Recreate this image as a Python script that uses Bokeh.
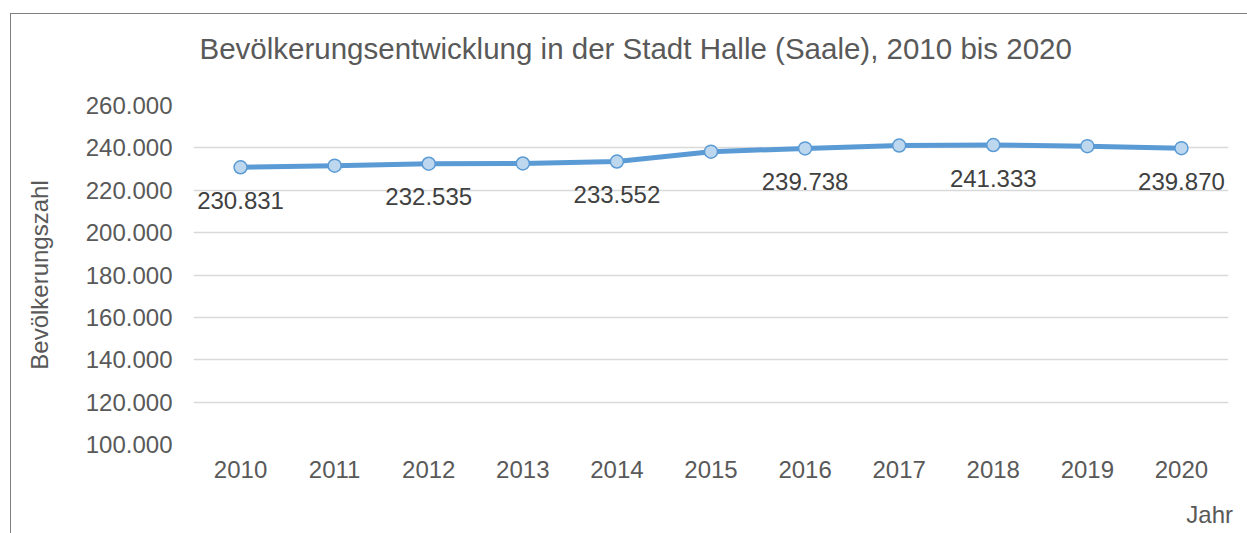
from bokeh.plotting import figure
from bokeh.models import Range1d, FixedTicker, ColumnDataSource, InlineStyleSheet, LinearAxis
from bokeh.core.properties import value
from bokeh.embed import file_html
from bokeh.resources import INLINE

# ---- data ----
years = ["2010", "2011", "2012", "2013", "2014", "2015", "2016", "2017", "2018", "2019", "2020"]
population = [230831, 231600, 232535, 232650, 233552, 238200, 239738, 241100, 241333, 240800, 239870]
labelled_years = ["2010", "2012", "2014", "2016", "2018", "2020"]
y_ticks = [100000, 120000, 140000, 160000, 180000, 200000, 220000, 240000, 260000]
y_tick_labels = ["100.000", "120.000", "140.000", "160.000", "180.000", "200.000", "220.000", "240.000", "260.000"]
title_text = "Bevölkerungsentwicklung in der Stadt Halle (Saale), 2010 bis 2020"
x_title = "Jahr"

FONT = "Liberation Sans"

p = figure(
    x_range=years,
    y_range=Range1d(100000, 260000),
    width=1247, height=541,
    min_border_left=193, min_border_right=19, min_border_top=113, min_border_bottom=89,
    output_backend="svg", toolbar_location=None,
    background_fill_color="white", border_fill_color="white",
)
p.margin = (-8, 0, 0, 0)
p.outline_line_color = None

# chart-area frame (left and top edges visible), drawn as a CSS overlay
p.stylesheets = [InlineStyleSheet(css="""
:host { position: relative; }
:host::after {
  content: ""; position: absolute; left: 10px; top: 21px; right: 0px; bottom: 0px;
  border-left: 1.5px solid #7f7f7f; border-top: 1.5px solid #7f7f7f;
  pointer-events: none; z-index: 10;
}
""")]

# title
p.title.text = title_text
p.title.align = "left"
p.title.offset = 6
p.title.vertical_align = "top"
p.title.standoff = 78
p.title.text_font = FONT
p.title.text_font_size = "29.5px"
p.title.text_font_style = "normal"
p.title.text_color = "#595959"

# grid
p.xgrid.grid_line_color = None
p.ygrid.grid_line_color = "#d9d9d9"
p.ygrid.grid_line_width = 1.5

# y axis
p.yaxis.ticker = FixedTicker(ticks=y_ticks)
p.yaxis.major_label_overrides = {t: l for t, l in zip(y_ticks, y_tick_labels)}
p.yaxis.axis_line_color = None
p.yaxis.major_tick_line_color = None
p.yaxis.minor_tick_line_color = None
p.yaxis.major_tick_out = 0
p.yaxis.major_label_standoff = 21
p.yaxis.major_label_text_font = FONT
p.yaxis.major_label_text_font_size = "24px"
p.yaxis.major_label_text_color = "#595959"
p.yaxis.axis_label = "Bevölkerungszahl"
p.yaxis.axis_label_text_font = FONT
p.yaxis.axis_label_text_font_size = "24px"
p.yaxis.axis_label_text_font_style = "normal"
p.yaxis.axis_label_text_color = "#595959"
p.yaxis.axis_label_standoff = 30

# x axis (years)
xa = p.xaxis[0]
xa.axis_line_color = None
xa.major_tick_line_color = None
xa.minor_tick_line_color = None
xa.major_tick_out = 0
xa.major_label_standoff = 16
xa.major_label_text_font = FONT
xa.major_label_text_font_size = "24px"
xa.major_label_text_color = "#595959"

# x axis title ("Jahr"), placed at the right end below the year labels
jahr_pos = 10.8
ja = LinearAxis(ticker=FixedTicker(ticks=[jahr_pos]), major_label_overrides={jahr_pos: x_title},
                axis_line_color=None, major_tick_line_color=None, minor_tick_line_color=None,
                major_tick_out=0, major_tick_in=0, major_label_standoff=20,
                major_label_text_font=FONT, major_label_text_font_size="24px",
                major_label_text_color="#595959")
p.add_layout(ja, "below")

src = ColumnDataSource(dict(x=years, y=population))
p.line("x", "y", source=src, line_color="#5b9bd5", line_width=5, line_join="round", line_cap="round")
p.scatter("x", "y", source=src, size=13, fill_color="#bdd7ee", line_color="#5b9bd5", line_width=1.5)

lab_y = [population[years.index(yr)] for yr in labelled_years]
lab_t = [f"{v:,}".replace(",", ".") for v in lab_y]
lsrc = ColumnDataSource(dict(x=labelled_years, y=lab_y, t=lab_t))
p.text("x", "y", text="t", source=lsrc, text_align="center", text_baseline="middle",
       y_offset=33, text_font=value(FONT), text_font_size="24px", text_color="#404040")

open("out.html", "w").write(file_html(p, INLINE))
